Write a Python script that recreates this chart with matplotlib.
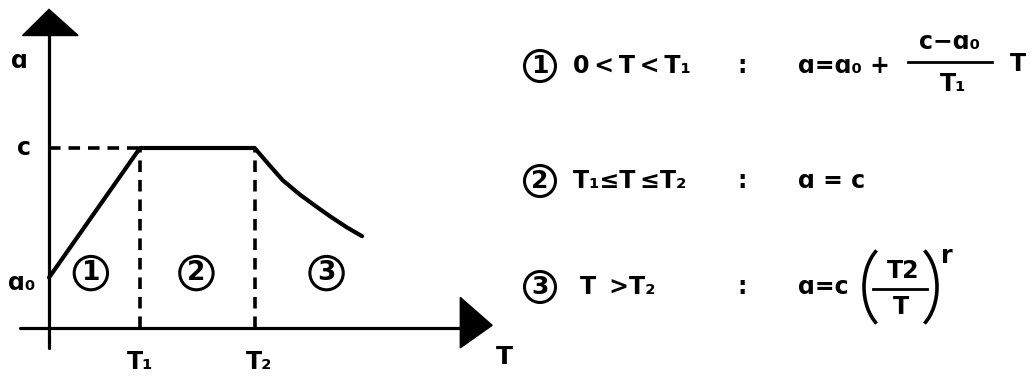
import matplotlib
matplotlib.use('Agg')
import matplotlib.pyplot as plt
from matplotlib.patches import Polygon, Arc

# ---- data (T in units of T1, a in units of c) ----
T1 = 1.0
T2 = 2.26
a0 = 0.28
c = 1.0
curve_T = [2.26, 2.43, 2.57, 2.76, 2.95, 3.09, 3.27, 3.44]
curve_a = [1.00, 0.90, 0.82, 0.74, 0.67, 0.62, 0.56, 0.51]
region_labels = ['1', '2', '3']
region_T = [0.46, 1.62, 3.05]
region_a = 0.305

W, H = 1033, 377
fig = plt.figure(figsize=(W / 100, H / 100), dpi=100)
plt.rcParams['font.family'] = ['DejaVu Sans']

# main diagram axes (data coords), covering whole figure
ax = fig.add_axes([0, 0, 1, 1])
ax.set_xlim(-49 / 91, (W - 49) / 91)
ax.set_ylim((328 - H) / 180, 328 / 180)
ax.axis('off')

k = 'black'
# axes lines
ax.plot([-0.32, 4.55], [0, 0], color=k, lw=2.3, solid_capstyle='round')
ax.plot([0, 0], [-0.11, 1.65], color=k, lw=2.3, solid_capstyle='round')
ax.add_patch(Polygon([[-0.29, 1.625], [0.32, 1.625], [0, 1.77]], closed=True, color=k))
ax.add_patch(Polygon([[4.52, 0.17], [4.52, -0.11], [4.87, 0.015]], closed=True, color=k))

# dashed guides
dash = dict(color=k, lw=2.6, dashes=(3.2, 2.2))
ax.plot([0, T1], [c, c], **dash)
ax.plot([T1, T1], [0, c], **dash)
ax.plot([T2, T2], [0, c], **dash)

# response curve
ax.plot([0, T1, T2] + curve_T[1:], [a0, c, c] + curve_a[1:], color=k, lw=3.0,
        solid_joinstyle='round', solid_capstyle='round')

fb = dict(fontweight='bold', color=k, ha='center', va='center')
ax.text(-0.32, 1.485, 'ɑ', fontsize=17, **fb)
ax.text(-0.27, c, 'c', fontsize=17, **fb)
ax.text(-0.30, a0 - 0.03, 'ɑ₀', fontsize=17, **fb)
lb = dict(fontweight='bold', color=k, ha='center', va='top')
ax.text(T1, -0.12, 'T₁', fontsize=17, **lb)
ax.text(T2 + 0.05, -0.12, 'T₂', fontsize=17, **lb)
ax.text(5.0, -0.16, 'T', fontsize=18, **fb)

circ = dict(boxstyle='circle,pad=0.14', fc='none', ec=k, lw=2.2)
for lab, t in zip(region_labels, region_T):
    ax.text(t, region_a, lab, fontsize=19, bbox=circ, **fb)

# right-hand formulas (pixel coords)
tx = fig.add_axes([0, 0, 1, 1])
tx.set_xlim(0, W)
tx.set_ylim(H, 0)
tx.axis('off')
tx.patch.set_alpha(0)

fs = 17
th = '\u2009'
rows_y = [66, 181, 287]
rows_x = [573, 573, 580]
conds = ['0' + th + '<' + th + 'T' + th + '<' + th + 'T₁', 'T₁≤T' + th + '≤T₂', 'T' + th + ' >T₂']
for lab, y, x, cond in zip(region_labels, rows_y, rows_x, conds):
    tx.text(540, y, lab, fontsize=18, bbox=circ, **fb)
    tx.text(x, y, cond, fontsize=fs, fontweight='bold', ha='left', va='center')
    tx.text(742, y, ':', fontsize=fs, **fb)

# row 1
tx.text(798, 66, 'ɑ=ɑ₀ +', fontsize=fs, fontweight='bold', ha='left', va='center')
tx.text(950, 42, 'c−ɑ₀', fontsize=fs, **fb)
tx.plot([908, 992], [62, 62], color=k, lw=2.0)
tx.text(953, 84, 'T₁', fontsize=fs, **fb)
tx.text(1018, 64, 'T', fontsize=fs, **fb)

# row 2
tx.text(798, 181, 'ɑ = c', fontsize=fs, fontweight='bold', ha='left', va='center')

# row 3
tx.text(798, 287, 'ɑ=c', fontsize=fs, fontweight='bold', ha='left', va='center')
tx.add_patch(Arc((896, 287), 64, 92, theta1=118, theta2=242, color=k, lw=2.6))
tx.add_patch(Arc((905, 287), 64, 92, theta1=-62, theta2=62, color=k, lw=2.6))
tx.text(903, 271, 'T2', fontsize=fs, **fb)
tx.plot([873, 927], [289, 289], color=k, lw=2.0)
tx.text(901, 307, 'T', fontsize=fs, **fb)
tx.text(947, 256, 'r', fontsize=fs, **fb)

fig.savefig('out.png', dpi=100)
